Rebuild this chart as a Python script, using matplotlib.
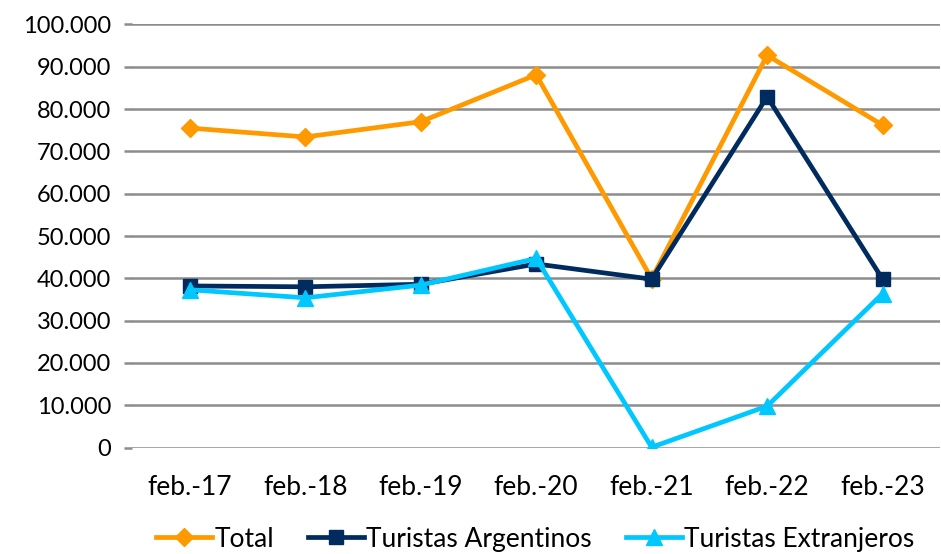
import matplotlib
matplotlib.use("Agg")
import matplotlib.pyplot as plt
from matplotlib.ticker import FuncFormatter, MultipleLocator

categories = ["feb.-17", "feb.-18", "feb.-19", "feb.-20", "feb.-21", "feb.-22", "feb.-23"]
total = [75500, 73400, 77000, 88100, 39900, 92700, 76200]
argentinos = [38200, 38000, 38600, 43400, 39800, 82900, 39800]
extranjeros = [37300, 35400, 38400, 44700, 100, 9800, 36400]

plt.rcParams['font.family'] = ['Lato', 'DejaVu Sans']

fig = plt.figure(figsize=(9.41, 5.54), dpi=100)
ax = fig.add_axes([0.1403, 0.192, 0.859, 0.764])

x = list(range(len(categories)))
ax.plot(x, total, color="#FF9900", lw=3.4, marker="D", ms=9, label="Total", zorder=3)
ax.plot(x, argentinos, color="#002B5E", lw=3.4, marker="s", ms=10, label="Turistas Argentinos", zorder=4)
ax.plot(x, extranjeros, color="#00C8FF", lw=3.4, marker="^", ms=11, label="Turistas Extranjeros", zorder=5)

ax.set_xlim(-0.5, len(categories) - 0.5)
ax.set_ylim(0, 100000)
ax.yaxis.set_major_locator(MultipleLocator(10000))
ax.yaxis.set_major_formatter(FuncFormatter(lambda v, p: f"{int(v):,}".replace(",", ".")))
ax.set_xticks(x)
ax.set_xticklabels(categories)
ax.grid(axis="y", color="#8C8C8C", lw=1.8, zorder=0)
ax.set_axisbelow(True)
for s in ax.spines.values():
    s.set_visible(False)
ax.tick_params(axis="y", length=6, color="#8C8C8C", width=1.8, labelsize=17, pad=9)
ax.tick_params(axis="x", length=0, labelsize=19, pad=20)

leg = fig.legend(loc="center", bbox_to_anchor=(0.569, 0.027), ncol=3, frameon=False,
                 fontsize=19, handlelength=2.1, columnspacing=1.3, handletextpad=0.1,
                 borderaxespad=0, borderpad=0)

fig.savefig("out.png", dpi=100)
